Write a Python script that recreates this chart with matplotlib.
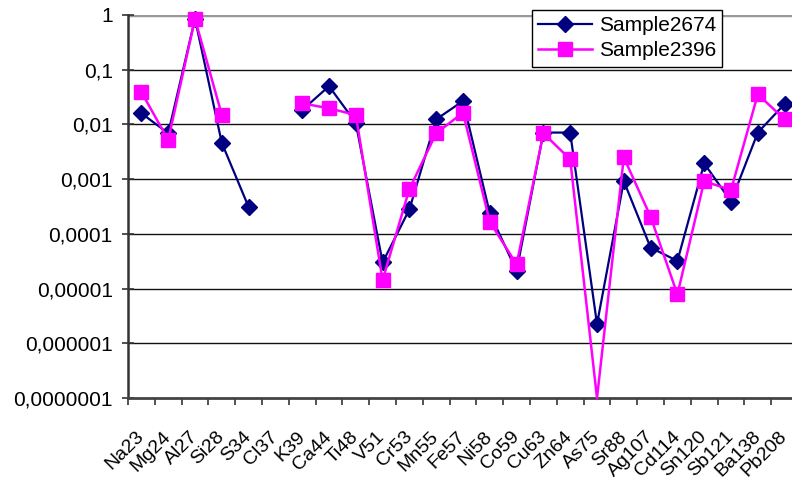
import numpy as np
import matplotlib
matplotlib.use("Agg")
import matplotlib.pyplot as plt
from matplotlib.ticker import FixedLocator, NullFormatter
from matplotlib.transforms import ScaledTranslation

# isotopes on the x axis
elements = ["Na23", "Mg24", "Al27", "Si28", "S34", "Cl37", "K39", "Ca44", "Ti48",
            "V51", "Cr53", "Mn55", "Fe57", "Ni58", "Co59", "Cu63", "Zn64", "As75",
            "Sr88", "Ag107", "Cd114", "Sn120", "Sb121", "Ba138", "Pb208"]

# relative concentrations, nan = not measured, 0 = below detection
sample_2674 = [0.016, 0.0069, 0.85, 0.0046, 0.00031, np.nan, 0.0183, 0.050, 0.0107,
               3.0e-5, 0.00028, 0.0124, 0.0268, 0.000237, 2.1e-5, 0.0071, 0.0071, 2.24e-6,
               0.00092, 5.6e-5, 3.2e-5, 0.00194, 0.00039, 0.0071, 0.0236]
sample_2396 = [0.039, 0.0052, 0.85, 0.0149, np.nan, np.nan, 0.0243, 0.0197, 0.0149,
               1.43e-5, 0.00066, 0.0069, 0.0164, 0.000166, 2.77e-5, 0.0069, 0.0023, 0.0,
               0.0025, 0.000206, 7.8e-6, 0.00092, 0.00063, 0.0355, 0.0124]

ytick_vals = [1e-7, 1e-6, 1e-5, 1e-4, 1e-3, 1e-2, 1e-1, 1]
ytick_labels = ["0,0000001", "0,000001", "0,00001", "0,0001", "0,001", "0,01", "0,1", "1"]

plt.rcParams["font.family"] = ["Liberation Sans", "DejaVu Sans"]

W, H = 792, 480
fig = plt.figure(figsize=(W / 100, H / 100), dpi=100)
ax = fig.add_axes([128 / W, 82 / H, 670 / W, 383 / H])

ymin = 1e-7
x = np.arange(len(elements))


def draw(vals, color, marker, ms, lw, label):
    vals = np.array(vals, dtype=float)
    # values at or below zero sit on the axis floor without a marker
    line_y = np.where(vals <= 0, ymin, vals)
    shown = [i for i, v in enumerate(vals) if v > 0]
    ax.plot(x, line_y, color=color, lw=lw, marker=marker, ms=ms,
            markevery=shown, markerfacecolor=color, markeredgecolor=color,
            label=label, clip_on=False, zorder=3)


draw(sample_2674, "#000080", "D", 8, 1.6, "Sample2674")
draw(sample_2396, "#ff00ff", "s", 10, 1.8, "Sample2396")

ax.set_yscale("log")
ax.set_ylim(1e-7, 1)
ax.set_xlim(-0.5, len(elements) - 0.5)

ax.yaxis.set_major_locator(FixedLocator(ytick_vals))
ax.set_yticklabels(ytick_labels, fontsize=15)
ax.yaxis.set_minor_locator(FixedLocator([]))
ax.tick_params(axis="y", which="major", direction="inout", length=8, width=1.2,
               pad=7, color="#333333")

ax.set_xticks(x)
ax.set_xticklabels(elements, fontsize=14, rotation=45, ha="right", va="center",
                   rotation_mode="anchor")
shift = ScaledTranslation(-13 / 100, 0, fig.dpi_scale_trans)
for lab in ax.get_xticklabels():
    lab.set_transform(lab.get_transform() + shift)
ax.xaxis.set_minor_locator(FixedLocator(np.arange(-0.5, len(elements), 1)))
ax.xaxis.set_minor_formatter(NullFormatter())
ax.tick_params(axis="x", which="major", length=0, pad=26)
ax.tick_params(axis="x", which="minor", direction="out", length=5, width=1.2,
               color="#333333")

for v in ytick_vals[1:-1]:
    ax.axhline(v, color="#111111", lw=1.0, zorder=1)
ax.axhline(1, color="#999999", lw=2.5, zorder=1)

for side in ["top", "right"]:
    ax.spines[side].set_visible(False)
ax.spines["left"].set_color("#333333")
ax.spines["left"].set_linewidth(1.8)
ax.spines["bottom"].set_color("#444444")
ax.spines["bottom"].set_linewidth(2.0)

leg = ax.legend(loc="upper left", bbox_to_anchor=(532 / W, 1 - 10 / H),
                bbox_transform=fig.transFigure, fontsize=15, frameon=True,
                fancybox=False, framealpha=1, edgecolor="black",
                handlelength=2.6, handletextpad=0.3, labelspacing=0.3,
                borderpad=0.3, borderaxespad=0)
leg.get_frame().set_linewidth(1.0)

fig.savefig("out.png", dpi=100)
